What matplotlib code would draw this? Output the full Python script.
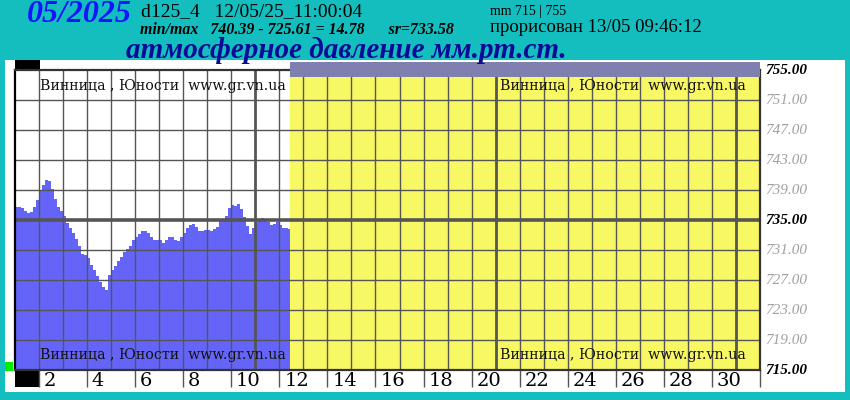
import numpy as np
import matplotlib
matplotlib.use('Agg')
import matplotlib.pyplot as plt
from matplotlib.patches import Rectangle
import matplotlib.transforms as mtransforms

# pressure every 3 hours from 01/05 00:00, last reading 12/05 11:00
hours = list(range(0, 274, 3)) + [275]
pressure = [736.8, 736.7, 736.6, 736.2, 735.9, 736.1, 736.7, 737.7, 738.9, 739.7,
            740.39, 740.2, 739.1, 737.8, 736.8, 736.2, 735.6, 734.6, 734.0, 733.3,
            732.5, 731.5, 730.5, 730.4, 729.9, 729.0, 728.3, 727.5, 726.7, 726.1,
            725.61, 727.7, 728.4, 728.9, 729.6, 730.1, 730.7, 731.1, 731.5, 732.4,
            732.8, 733.1, 733.6, 733.6, 733.3, 732.8, 732.4, 732.3, 732.3, 731.9,
            732.4, 732.7, 732.8, 732.4, 732.2, 732.7, 733.3, 733.9, 734.4, 734.5,
            734.1, 733.6, 733.6, 733.7, 733.7, 733.6, 733.8, 734.1, 735.2, 735.2,
            735.5, 736.6, 737.0, 736.9, 737.1, 736.5, 735.4, 734.2, 733.2, 734.0,
            734.8, 735.0, 735.3, 735.1, 734.7, 734.4, 734.5, 734.7, 734.3, 734.0,
            734.0, 733.8, 733.7]
days = [1 + h / 24 for h in hours]

ymin, ymax = 715, 755
y_levels = list(range(715, 756, 4))
x_labels = list(range(2, 31, 2))
place = 'Винница , Юности  www.gr.vn.ua'

teal = '#14BEBE'
fill_blue = '#6464F8'
yellow = '#F8F864'
band = '#8080B0'
gridc = '#555555'
serif = ['Liberation Serif', 'DejaVu Serif']

W, H = 850, 400
fig = plt.figure(figsize=(8.5, 4), dpi=100, facecolor=teal)

def fx(x):
    return x / W

def fy(y):
    return 1 - y / H

# white panel
fig.patches.append(Rectangle((fx(5), fy(392)), fx(840), 332 / H, transform=fig.transFigure,
                             facecolor='white', edgecolor='none', zorder=0))
# small markers
fig.patches.append(Rectangle((fx(15), fy(70)), fx(25), 10 / H, transform=fig.transFigure,
                             facecolor='black', edgecolor='none', zorder=1))
fig.patches.append(Rectangle((fx(15), fy(387)), fx(25), 16 / H, transform=fig.transFigure,
                             facecolor='black', edgecolor='none', zorder=1))
fig.patches.append(Rectangle((fx(5), fy(371)), fx(8), 9 / H, transform=fig.transFigure,
                             facecolor='#00EE00', edgecolor='none', zorder=1))

ax = fig.add_axes([fx(15), fy(370), fx(745), 300 / H])
ax.set_zorder(2)
ax.set_facecolor('white')
ax.set_xlim(1, 32)
ax.set_ylim(ymin, ymax)

last_day = days[-1]
ax.axvspan(last_day, 32, color=yellow, zorder=1)
ax.fill_between(days, ymin, pressure, step='post', color=fill_blue, lw=0, zorder=2)

for d in range(2, 32):
    thick = d in (11, 21, 31)
    ax.axvline(d, color=gridc, lw=2.0 if thick else 1.0, zorder=3)
for v in y_levels[1:-1]:
    ax.axhline(v, color=gridc, lw=2.6 if v == 735 else 1.0, zorder=3)

for s in ax.spines.values():
    s.set_color('#333333')
    s.set_linewidth(1.6)
    s.set_zorder(4)
ax.spines['left'].set_color('black')

# band over the empty part of the month
bt = mtransforms.blended_transform_factory(ax.transData, ax.transAxes)
ax.add_patch(Rectangle((last_day, 1 - 7 / 300), 32 - last_day, 15 / 300, transform=bt,
                       facecolor=band, edgecolor='none', clip_on=False, zorder=5))

ax.set_xticks(range(2, 33, 2))
ax.set_xticklabels([])
ax.set_yticks([])
ax.tick_params(axis='x', length=12, width=1, color=gridc, direction='out')

xt = ax.get_xaxis_transform()
for d in x_labels:
    ax.text(d + 0.2, -0.005, str(d), transform=xt, ha='left', va='top',
            fontsize=14, family=['DejaVu Serif'], color='black')

yt = ax.get_yaxis_transform()
for v in y_levels:
    main = v in (715, 735, 755)
    ax.text(1 + 5 / 745, v, '%.2f' % v, transform=yt, ha='left', va='center',
            fontsize=11, family=serif, style='italic',
            weight='bold' if main else 'normal',
            color='black' if main else '#A0A0A0')

for (x, y) in [(40, 86), (40, 355), (500, 86), (500, 355)]:
    ax.text(fx(x), fy(y), place, transform=fig.transFigure, ha='left', va='center',
            fontsize=10.2, family=['DejaVu Serif'], color='#111111', zorder=6)

# header
fig.text(fx(27), fy(15), '05/2025', ha='left', va='center', fontsize=23,
         family=serif, style='italic', weight='bold', color='#1414FF')
fig.text(fx(141), fy(12), 'd125_4   12/05/25_11:00:04', ha='left', va='center',
         fontsize=14, family=serif, color='black')
fig.text(fx(140), fy(30), 'min/max   740.39 - 725.61 = 14.78      sr=733.58',
         ha='left', va='center', fontsize=11.4, family=serif, style='italic',
         weight='bold', color='black')
fig.text(fx(490), fy(11), 'mm 715 | 755', ha='left', va='center', fontsize=10,
         family=serif, color='black')
fig.text(fx(490), fy(27), 'прорисован 13/05 09:46:12', ha='left', va='center',
         fontsize=13.5, family=serif, color='black')
fig.text(fx(126), fy(50), 'атмосферное давление мм.рт.ст.', ha='left', va='center',
         fontsize=21, family=serif, style='italic', weight='bold', color='#0A0A96')

fig.savefig('out.png', dpi=100, facecolor=teal)
